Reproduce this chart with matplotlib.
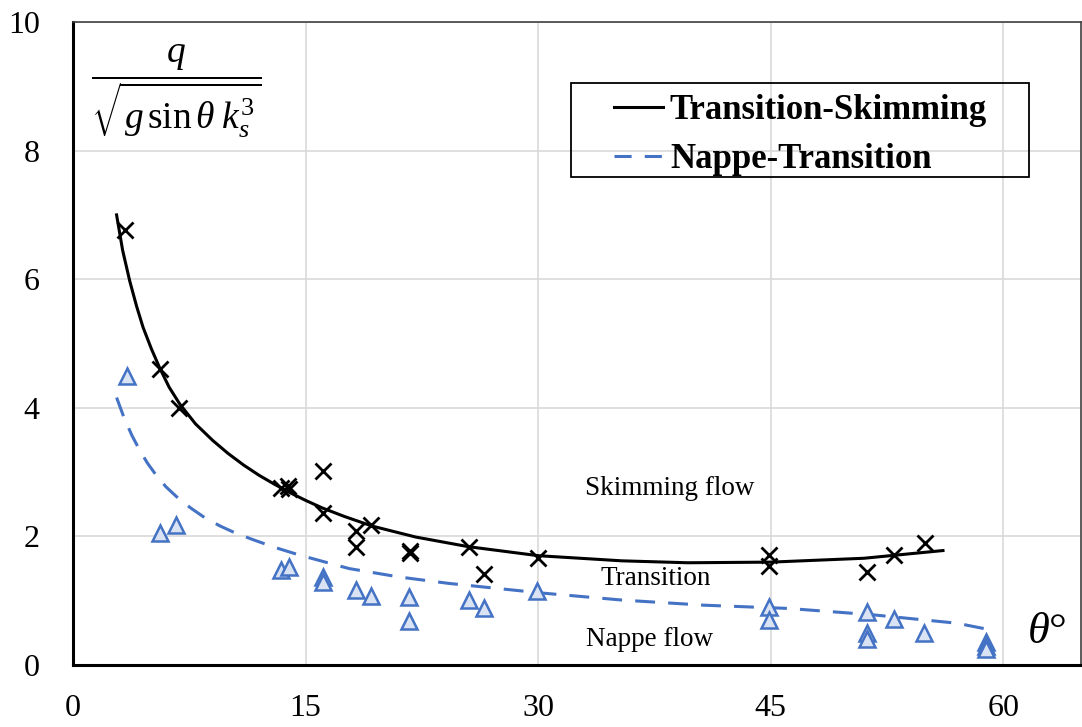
import matplotlib
matplotlib.use("Agg")
import matplotlib.pyplot as plt
from matplotlib.patches import Rectangle
from matplotlib.lines import Line2D

plt.rcParams['font.family'] = ['Liberation Serif', 'DejaVu Serif']
plt.rcParams['mathtext.fontset'] = 'custom'
plt.rcParams['mathtext.rm'] = 'Liberation Serif'
plt.rcParams['mathtext.it'] = 'Liberation Serif:italic'

# measured points, transition/skimming onset (crosses)
skim_x = [3.34, 5.59, 6.81, 13.41, 13.88, 13.95, 16.13, 16.13, 18.23, 18.23, 19.2,
          21.7, 21.7, 25.56, 26.52, 29.97, 44.9, 44.9, 51.22, 52.94, 54.93]
skim_y = [6.77, 4.60, 4.00, 2.76, 2.78, 2.74, 3.02, 2.37, 2.09, 1.83, 2.18,
          1.78, 1.74, 1.84, 1.42, 1.66, 1.71, 1.54, 1.45, 1.71, 1.89]

# measured points, nappe/transition onset (triangles)
nappe_x = [3.45, 5.59, 6.66, 13.41, 13.9, 16.09, 16.09, 18.23, 19.2, 21.66, 21.66,
           25.56, 26.5, 29.93, 44.9, 44.9, 51.2, 51.2, 51.2, 52.94, 54.9,
           58.9, 58.9, 58.9]
nappe_y = [4.50, 2.05, 2.18, 1.47, 1.52, 1.37, 1.29, 1.17, 1.07, 1.05, 0.68,
           1.01, 0.88, 1.15, 0.90, 0.70, 0.83, 0.49, 0.40, 0.71, 0.50,
           0.36, 0.30, 0.25]

# boundary curves
ts_x = [2.81, 3.2, 3.66, 4.1, 4.52, 5.05, 5.59, 6.2, 6.88, 7.9, 9.02, 10.0, 11.0,
        12.0, 13.0, 14.0, 15.0, 16.1, 17.5, 19.3, 22.1, 25.5, 30.0, 35.4, 39.65,
        45.0, 51.0, 56.1]
ts_y = [7.0, 6.45, 5.97, 5.58, 5.25, 4.92, 4.62, 4.32, 4.06, 3.75, 3.49, 3.29, 3.11,
        2.95, 2.81, 2.68, 2.56, 2.44, 2.31, 2.16, 1.99, 1.84, 1.70, 1.62, 1.59,
        1.60, 1.66, 1.78]

nt_x = [2.81, 3.3, 3.8, 4.3, 4.8, 5.4, 6.0, 6.8, 7.6, 8.5, 9.5, 10.5, 11.6, 13.0,
        14.6, 17.8, 21.0, 24.2, 27.4, 30.2, 35.4, 40.7, 46.1, 51.6, 57.0, 59.5]
nt_y = [4.16, 3.84, 3.57, 3.34, 3.14, 2.94, 2.77, 2.59, 2.44, 2.29, 2.16, 2.05, 1.95,
        1.83, 1.71, 1.50, 1.37, 1.27, 1.19, 1.12, 1.01, 0.93, 0.88, 0.78, 0.65, 0.53]

x_ticks = [0, 15, 30, 45, 60]
y_ticks = [0, 2, 4, 6, 8, 10]

blue = '#4472c4'

fig = plt.figure(figsize=(10.82, 7.27), dpi=100)
ax = fig.add_axes([73 / 1082, 62 / 727, 1008 / 1082, 643 / 727])
ax.set_xlim(0, 65)
ax.set_ylim(0, 10)

ax.set_xticks(x_ticks)
ax.set_yticks(y_ticks)
ax.tick_params(axis='both', length=0, labelsize=23)
ax.tick_params(axis='x', pad=21)
ax.tick_params(axis='y', pad=24)
ax.grid(True, color='#d9d9d9', lw=1.2)
ax.set_axisbelow(True)

for s in ['left', 'bottom']:
    ax.spines[s].set_linewidth(2.2)
    ax.spines[s].set_color('black')
for s in ['top', 'right']:
    ax.spines[s].set_linewidth(1.2)
    ax.spines[s].set_color('#404040')

ax.plot(ts_x, ts_y, color='black', lw=2.2, zorder=3)
nt_line, = ax.plot(nt_x, nt_y, color=blue, lw=2.2, zorder=3)
nt_line.set_dashes([6.5, 4.3])

ax.plot(skim_x, skim_y, ls='none', marker='x', ms=11, mew=2, color='black', zorder=4)
ax.plot(nappe_x, nappe_y, ls='none', marker='^', ms=11, mew=1.8,
        mfc='#dae3f3', mec=blue, zorder=4)

ax.text(38.5, 2.74, 'Skimming flow', fontsize=19.5, ha='center', va='center')
ax.text(37.6, 1.34, 'Transition', fontsize=19.5, ha='center', va='center')
ax.text(37.2, 0.40, 'Nappe flow', fontsize=19.5, ha='center', va='center')
ax.text(62.8, 0.51, r'$\theta$°', fontsize=32, ha='center', va='center')

ax.text(6.65, 8.92, r'$\dfrac{q}{\sqrt{g\,\mathrm{sin}\,\theta\;k_s^3}}$',
        fontsize=27, ha='center', va='center')

# legend with a separately drawn frame
ax.add_patch(Rectangle((0.494, 0.759), 0.454, 0.146, transform=ax.transAxes,
                       fill=False, ec='black', lw=1.3, zorder=5))
h1 = Line2D([], [], color='black', lw=2.2)
h2 = Line2D([], [], color=blue, lw=2.2, dashes=[5.6, 4.3])
ax.legend([h1, h2], ['Transition-Skimming', 'Nappe-Transition'],
          loc='center', bbox_to_anchor=(0.722, 0.824), frameon=False,
          prop={'weight': 'bold', 'size': 25}, handlelength=1.4,
          handletextpad=0.2, labelspacing=0.45, borderpad=0)

fig.savefig('out.png', dpi=100)
